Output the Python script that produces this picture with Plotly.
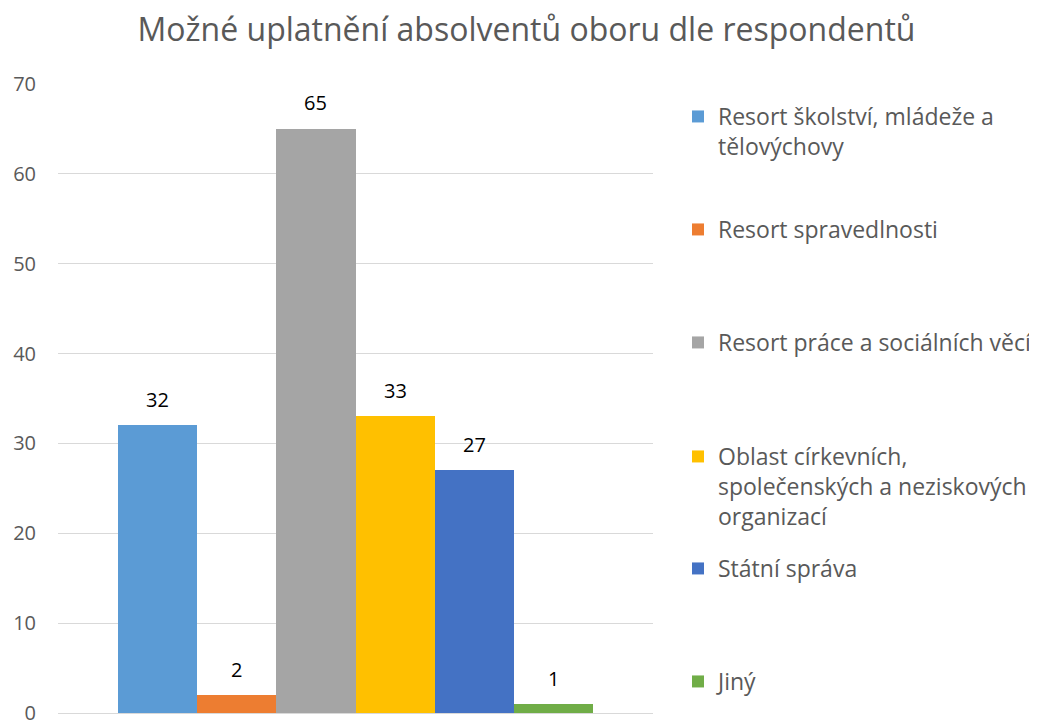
import plotly.graph_objects as go

categories = [
    "Resort školství, mládeže a tělovýchovy",
    "Resort spravedlnosti",
    "Resort práce a sociálních věcí",
    "Oblast církevních, společenských a neziskových organizací",
    "Státní správa",
    "Jiný",
]
legend_labels = [
    "Resort školství, mládeže a<br>tělovýchovy",
    "Resort spravedlnosti",
    "Resort práce a sociálních věcí",
    "Oblast církevních,<br>společenských a neziskových<br>organizací",
    "Státní správa",
    "Jiný",
]
values = [32, 2, 65, 33, 27, 1]
colors = ["#5B9BD5", "#ED7D31", "#A5A5A5", "#FFC000", "#4472C4", "#70AD47"]
title_text = "Možné uplatnění absolventů oboru dle respondentů"
y_ticks = [0, 10, 20, 30, 40, 50, 60, 70]

# page has an 8px body margin; figure sized to fit the 1037x720 window
OFF = 8
W, H = 1037 - OFF, 720 - OFF
FONT = "Open Sans"
GREY = "#595959"

# first-line centre of each legend entry (page px from top)
legend_line_centres = [117, 230, 343, 457, 569, 682]

fig = go.Figure()
for i, (cat, lab, v, c) in enumerate(zip(categories, legend_labels, values, colors)):
    lg = "legend" if i == 0 else f"legend{i+1}"
    fig.add_trace(go.Bar(
        x=[cat], y=[v], name=lab, marker=dict(color=c, line=dict(width=0)),
        legend=lg, showlegend=True, hoverinfo="x+y",
    ))
    fig.add_annotation(
        x=cat, y=v, text=str(v), showarrow=False, yanchor="bottom", yshift=10.5,
        font=dict(family=FONT, size=20, color="#000000"),
    )

layout_legends = {}
for i, yc in enumerate(legend_line_centres):
    key = "legend" if i == 0 else f"legend{i+1}"
    layout_legends[key] = dict(
        xref="container", yref="container",
        x=(678 - OFF) / W, y=1 - (yc - OFF - 22) / H, xanchor="left", yanchor="top",
        font=dict(family=FONT, size=23, color=GREY),
        valign="top", bgcolor="rgba(0,0,0,0)", itemclick=False,
    )

fig.update_layout(
    width=W, height=H, autosize=False,
    paper_bgcolor="white", plot_bgcolor="white",
    margin=dict(l=58 - OFF, r=W - (653 - OFF), t=84 - OFF, b=H - (713 - OFF),
                autoexpand=False),
    barmode="overlay", bargap=0,
    title=dict(
        text=title_text, xref="container", yref="container",
        x=(526.5 - OFF) / W, y=1 - (30.5 - OFF - 1) / H, xanchor="center", yanchor="middle",
        font=dict(family=FONT, size=32, color=GREY),
    ),
    xaxis=dict(
        type="category", categoryorder="array", categoryarray=categories,
        range=[-1.256, 6.256], showticklabels=False, showgrid=False,
        zeroline=False, showline=False, ticks="", automargin=False,
    ),
    yaxis=dict(
        range=[0, 70], tickvals=y_ticks, showgrid=True, gridcolor="#D9D9D9",
        gridwidth=1, zeroline=True, zerolinecolor="#D9D9D9", zerolinewidth=1,
        showline=False, ticks="outside", ticklen=17, tickcolor="rgba(0,0,0,0)",
        tickfont=dict(family=FONT, size=20, color=GREY),
        ticklabeloverflow="allow", automargin=False,
    ),
    **layout_legends,
)

fig.write_html("out.html")
